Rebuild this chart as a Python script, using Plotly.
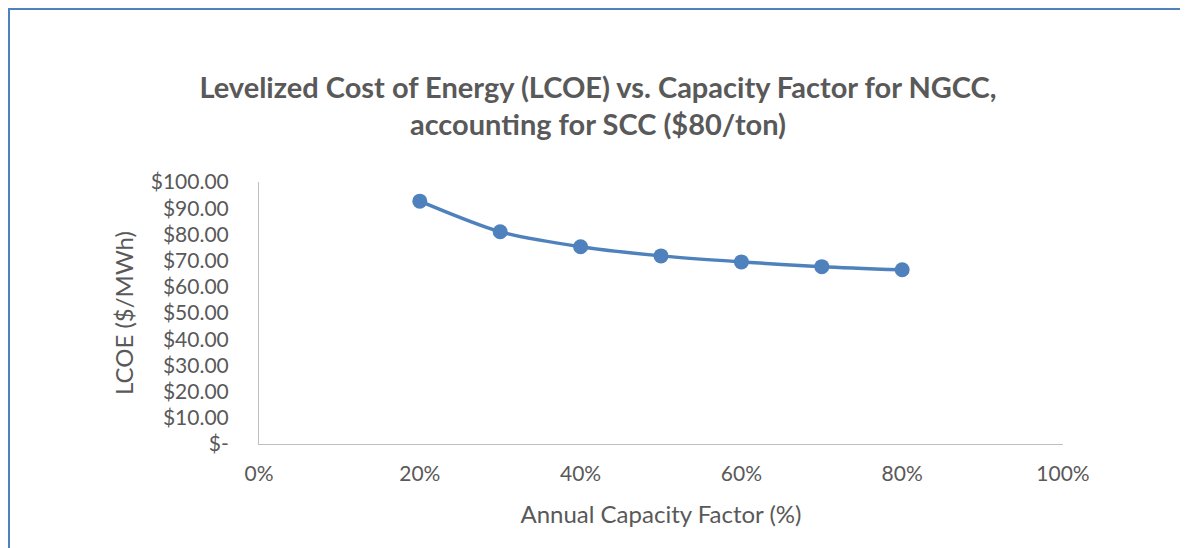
import plotly.graph_objects as go

capacity_factor = [0.2, 0.3, 0.4, 0.5, 0.6, 0.7, 0.8]
lcoe = [92.7, 81.0, 75.3, 71.8, 69.5, 67.7, 66.5]

x_tickvals = [0, 0.2, 0.4, 0.6, 0.8, 1.0]
x_ticktext = ["0%", "20%", "40%", "60%", "80%", "100%"]
y_tickvals = [0, 10, 20, 30, 40, 50, 60, 70, 80, 90, 100]
y_ticktext = ["$-", "$10.00", "$20.00", "$30.00", "$40.00", "$50.00",
              "$60.00", "$70.00", "$80.00", "$90.00", "$100.00"]

title_text = ("Levelized Cost of Energy (LCOE) vs. Capacity Factor for NGCC,<br>"
              "accounting for SCC ($80/ton)")
x_title = "Annual Capacity Factor (%)"
y_title = "LCOE ($/MWh)"

FONT = "Lato"
GREY = "#595959"
BLUE = "#4F81BD"

fig = go.Figure()
fig.add_trace(go.Scatter(
    x=capacity_factor, y=lcoe, mode="lines+markers",
    line=dict(color=BLUE, width=3.5, shape="spline", smoothing=0.8),
    marker=dict(color=BLUE, size=15),
    showlegend=False,
))

fig.update_layout(
    width=1180, height=540,
    margin=dict(l=251, r=125, t=174, b=104),
    paper_bgcolor="white", plot_bgcolor="white",
    font=dict(family=FONT, color=GREY),
    title=dict(text=title_text, x=0.5, xanchor="center", y=0.834, yanchor="middle",
               font=dict(family=FONT, size=29, color=GREY, weight="bold")),
    xaxis=dict(range=[0, 1], tickvals=x_tickvals, ticktext=x_ticktext,
               showgrid=False, zeroline=False, showline=True, linecolor="#BFBFBF",
               linewidth=1, ticks="", tickfont=dict(size=21, color=GREY),
               ticklabelstandoff=11,
               title=dict(text=x_title, font=dict(size=24, color=GREY), standoff=21)),
    yaxis=dict(range=[0, 100], tickvals=y_tickvals, ticktext=y_ticktext,
               showgrid=False, zeroline=False, showline=True, linecolor="#BFBFBF",
               linewidth=1, ticks="", tickfont=dict(size=21, color=GREY),
               ticklabelstandoff=25,
               title=dict(text=y_title, font=dict(size=24, color=GREY), standoff=10)),
    shapes=[dict(type="rect", xref="paper", yref="paper",
                 x0=-250 / 804, x1=1.4, y0=-0.6, y1=1 + 173 / 262,
                 line=dict(color="#4F81BD", width=2), fillcolor="rgba(0,0,0,0)",
                 layer="below")],
)

fig.write_html("out.html")
